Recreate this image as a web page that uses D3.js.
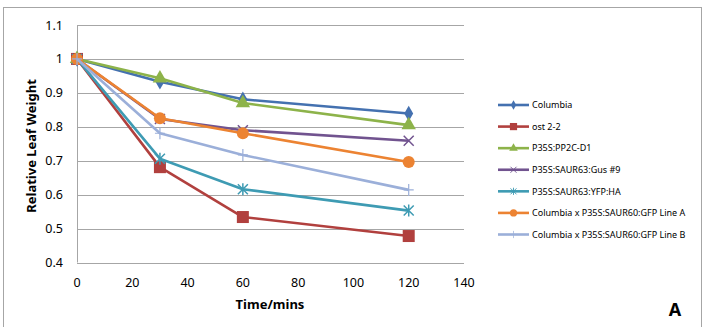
<!DOCTYPE html>
<html>
<head>
<meta charset="utf-8">
<script src="https://cdn.jsdelivr.net/npm/d3@7"></script>
<style>
  body { margin: 0; background: #fff; }
  svg text { font-family: "Noto Sans", "Open Sans", sans-serif; fill: #000; }
</style>
</head>
<body>
<div id="chart"></div>
<script>
// data
const times = [0, 30, 60, 120];
const seriesNames = [
  'Columbia',
  'ost 2-2',
  'P35S:PP2C-D1',
  'P35S:SAUR63:Gus #9',
  'P35S:SAUR63:YFP:HA',
  'Columbia x P35S:SAUR60:GFP Line A',
  'Columbia x P35S:SAUR60:GFP Line B'
];
const columbia = [1, 0.933, 0.881, 0.839];
const ost22 = [1, 0.681, 0.534, 0.478];
const pp2c = [1, 0.943, 0.870, 0.805];
const gus9 = [1, 0.823, 0.790, 0.759];
const yfpHa = [1, 0.706, 0.616, 0.553];
const lineA = [1, 0.825, 0.781, 0.696];
const lineB = [1, 0.781, 0.717, 0.614];
const xTicks = [0, 20, 40, 60, 80, 100, 120, 140];
const yTicks = [0.4, 0.5, 0.6, 0.7, 0.8, 0.9, 1, 1.1];

const allValues = [columbia, ost22, pp2c, gus9, yfpHa, lineA, lineB];
const colors = ['#4471b0', '#b1403e', '#8db34a', '#71538f', '#3e9bb3', '#ec8332', '#9bafd9'];
const markers = ['diamond', 'square', 'triangle', 'cross', 'star', 'circle', 'plus'];

const width = 705, height = 327;
const svg = d3.select('#chart').append('svg').attr('width', width).attr('height', height);

// outer frame
svg.append('rect').attr('x', 3.5).attr('y', 7.5).attr('width', 698).attr('height', 330)
  .attr('fill', 'none').attr('stroke', '#a6a6a6').attr('stroke-width', 1);

const x = d3.scaleLinear().domain([0, 140]).range([77, 464]);
const y = d3.scaleLinear().domain([0.4, 1.1]).range([262.5, 25]);

// gridlines
svg.append('g').selectAll('line').data(yTicks).enter().append('line')
  .attr('x1', x(0)).attr('x2', x(140))
  .attr('y1', d => Math.round(y(d)) + 0.5).attr('y2', d => Math.round(y(d)) + 0.5)
  .attr('stroke', '#a6a6a6').attr('stroke-width', 1);

// y axis line
svg.append('line').attr('x1', x(0) + 0.5).attr('x2', x(0) + 0.5)
  .attr('y1', y(1.1)).attr('y2', y(0.4))
  .attr('stroke', '#a6a6a6');

svg.append('g').selectAll('text').data(yTicks).enter().append('text')
  .attr('x', 63).attr('y', d => y(d) + 4.5)
  .attr('text-anchor', 'end').style('font-size', '12.5px')
  .text(d => d3.format('~g')(d));

svg.append('g').selectAll('text').data(xTicks).enter().append('text')
  .attr('x', d => x(d)).attr('y', 287)
  .attr('text-anchor', 'middle').style('font-size', '12.5px')
  .text(d => d);

svg.append('text').attr('x', 270).attr('y', 309)
  .attr('text-anchor', 'middle').style('font-size', '13px').style('font-weight', 'bold')
  .text('Time/mins');

svg.append('text').attr('transform', 'translate(36,146) rotate(-90)')
  .attr('text-anchor', 'middle').style('font-size', '13px').style('font-weight', 'bold')
  .text('Relative Leaf Weight');

svg.append('text').attr('x', 675).attr('y', 316)
  .attr('text-anchor', 'middle').style('font-size', '18px').style('font-weight', 'bold')
  .text('A');

function drawMarker(g, type, color, cx, cy) {
  if (type === 'diamond') {
    g.append('path').attr('d', d3.symbol(d3.symbolDiamond, 70)()).attr('transform', `translate(${cx},${cy})`).attr('fill', color);
  } else if (type === 'square') {
    g.append('rect').attr('x', cx - 6).attr('y', cy - 6).attr('width', 12).attr('height', 12).attr('fill', color);
  } else if (type === 'triangle') {
    g.append('path').attr('d', d3.symbol(d3.symbolTriangle, 90)()).attr('transform', `translate(${cx},${cy})`).attr('fill', color);
  } else if (type === 'circle') {
    g.append('circle').attr('cx', cx).attr('cy', cy).attr('r', 6).attr('fill', color);
  } else if (type === 'cross') {
    g.append('path').attr('d', `M${cx - 5},${cy - 5}L${cx + 5},${cy + 5}M${cx - 5},${cy + 5}L${cx + 5},${cy - 5}`)
      .attr('stroke', color).attr('stroke-width', 1.5).attr('fill', 'none');
  } else if (type === 'star') {
    g.append('path').attr('d', `M${cx - 5},${cy - 5}L${cx + 5},${cy + 5}M${cx - 5},${cy + 5}L${cx + 5},${cy - 5}M${cx},${cy - 6}L${cx},${cy + 6}`)
      .attr('stroke', color).attr('stroke-width', 1.5).attr('fill', 'none');
  } else if (type === 'plus') {
    g.append('path').attr('d', `M${cx - 5},${cy}L${cx + 5},${cy}M${cx},${cy - 6}L${cx},${cy + 6}`)
      .attr('stroke', color).attr('stroke-width', 1.2).attr('fill', 'none');
  }
}

const line = d3.line().x((d, i) => x(times[i])).y(d => y(d));

allValues.forEach((vals, k) => {
  const g = svg.append('g');
  g.append('path').datum(vals).attr('d', line)
    .attr('fill', 'none').attr('stroke', colors[k]).attr('stroke-width', 2.6)
    .attr('stroke-linejoin', 'round');
  vals.forEach((v, i) => drawMarker(g, markers[k], colors[k], x(times[i]), y(v)));
});

// legend
const legendY = d3.scaleLinear().domain([0, 6]).range([105, 234.5]);
seriesNames.forEach((name, k) => {
  const g = svg.append('g');
  const ly = legendY(k);
  g.append('line').attr('x1', 498).attr('x2', 529).attr('y1', ly).attr('y2', ly)
    .attr('stroke', colors[k]).attr('stroke-width', 2.6);
  const lg = g.append('g').attr('transform', `translate(${513.5},${ly}) scale(0.6) translate(${-513.5},${-ly})`);
  drawMarker(lg, markers[k], colors[k], 513.5, ly);
  g.append('text').attr('x', 532).attr('y', ly + 3.2).style('font-size', '9px').text(name);
});
</script>
</body>
</html>
